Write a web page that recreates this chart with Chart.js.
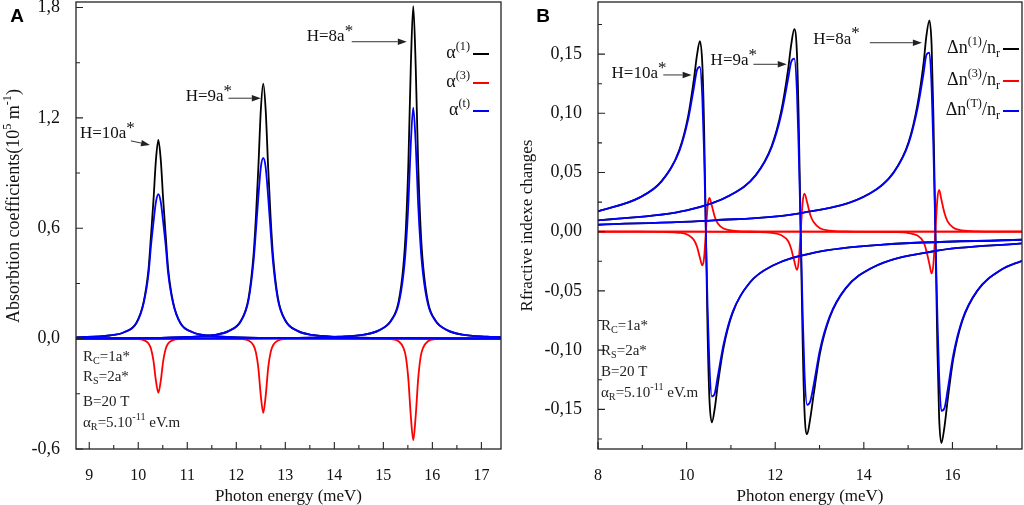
<!DOCTYPE html>
<html>
<head>
<meta charset="utf-8">
<script src="https://cdn.jsdelivr.net/npm/chart.js@4.4.0/dist/chart.umd.min.js"></script>
<style>
  html, body { margin: 0; padding: 0; background: #fff; }
  #wrap { position: relative; width: 1024px; height: 505px; overflow: hidden; }
  .panel { position: absolute; top: 0; width: 512px; height: 505px; }
</style>
</head>
<body>
<div id="wrap">
  <div class="panel" style="left:0"><canvas id="chartA" width="512" height="505"></canvas></div>
  <div class="panel" style="left:512px"><canvas id="chartB" width="512" height="505"></canvas></div>
</div>
<script>
// ---- Panel A : absorption coefficients (10^5 m^-1) ----
// H = 10a*
const xA10 = [8.73, 9.41, 9.71, 9.96, 10.11, 10.21, 10.26, 10.31, 10.36, 10.41, 10.46, 10.51, 10.56, 10.61, 10.71, 10.86, 11.11, 11.41, 11.91, 12.91, 14.41, 17.4];
const a1_10 = [0.0065, 0.017, 0.035, 0.085, 0.20, 0.38, 0.56, 0.75, 0.97, 1.08, 0.97, 0.75, 0.56, 0.38, 0.20, 0.085, 0.035, 0.017, 0.008, 0.003, 0.0012, 0.0004];
const a3_10 = [0, 0, 0, -0.002, -0.008, -0.026, -0.055, -0.12, -0.228, -0.295, -0.228, -0.12, -0.055, -0.026, -0.008, -0.002, 0, 0, 0, 0, 0, 0];
const at_10 = [0.0065, 0.017, 0.035, 0.083, 0.192, 0.354, 0.505, 0.63, 0.742, 0.785, 0.742, 0.63, 0.505, 0.354, 0.192, 0.083, 0.035, 0.017, 0.008, 0.003, 0.0012, 0.0004];
// H = 9a*
const xA9 = [8.73, 10.05, 11.05, 11.55, 11.85, 12.10, 12.25, 12.35, 12.40, 12.45, 12.50, 12.55, 12.60, 12.65, 12.70, 12.75, 12.85, 13.00, 13.25, 13.55, 14.05, 15.05, 17.4];
const a1_9 = [0.0015, 0.0035, 0.01, 0.02, 0.042, 0.10, 0.22, 0.45, 0.66, 0.93, 1.24, 1.386, 1.24, 0.93, 0.66, 0.45, 0.22, 0.10, 0.042, 0.02, 0.01, 0.0035, 0.0012];
const a3_9 = [0, 0, 0, 0, 0, -0.0025, -0.010, -0.036, -0.075, -0.16, -0.31, -0.404, -0.31, -0.16, -0.075, -0.036, -0.010, -0.0025, 0, 0, 0, 0, 0];
const at_9 = [0.0015, 0.0035, 0.01, 0.02, 0.042, 0.0975, 0.21, 0.414, 0.585, 0.77, 0.93, 0.982, 0.93, 0.77, 0.585, 0.414, 0.21, 0.0975, 0.042, 0.02, 0.01, 0.0035, 0.0012];
// H = 8a*
const xA8 = [8.73, 11.61, 13.11, 14.11, 14.61, 14.91, 15.16, 15.31, 15.41, 15.46, 15.51, 15.56, 15.61, 15.66, 15.71, 15.76, 15.81, 15.91, 16.06, 16.31, 16.61, 17.11, 17.4];
const a1_8 = [0.0005, 0.0017, 0.004, 0.011, 0.022, 0.045, 0.10, 0.20, 0.40, 0.60, 0.95, 1.48, 1.808, 1.48, 0.95, 0.60, 0.40, 0.20, 0.10, 0.045, 0.022, 0.011, 0.0085];
const a3_8 = [0, 0, 0, 0, 0, 0, -0.003, -0.014, -0.05, -0.10, -0.22, -0.42, -0.552, -0.42, -0.22, -0.10, -0.05, -0.014, -0.003, 0, 0, 0, 0];
const at_8 = [0.0005, 0.0017, 0.004, 0.011, 0.022, 0.045, 0.097, 0.186, 0.35, 0.50, 0.73, 1.06, 1.256, 1.06, 0.73, 0.50, 0.35, 0.186, 0.097, 0.045, 0.022, 0.011, 0.0085];

// ---- Panel B : refractive index changes ----
// H = 10a*
const xB10 = [8.0, 8.935, 9.435, 9.835, 10.035, 10.165, 10.235, 10.30, 10.355, 10.395, 10.435, 10.475, 10.515, 10.57, 10.635, 10.705, 10.835, 11.035, 11.435, 11.935, 12.935, 14.435, 17.57];
const n1_10 = [0.0172, 0.0288, 0.0427, 0.069, 0.0976, 0.1288, 0.1493, 0.161, 0.1412, 0.0877, 0, -0.0877, -0.1412, -0.161, -0.1493, -0.1288, -0.0976, -0.069, -0.0427, -0.0288, -0.0173, -0.0109, -0.0068];
const n3_10 = [0, 0, -0.0002, -0.0009, -0.0027, -0.007, -0.0127, -0.0219, -0.0285, -0.0219, 0, 0.0219, 0.0285, 0.0219, 0.0127, 0.007, 0.0027, 0.0009, 0.0002, 0, 0, 0, 0];
const nT_10 = [0.0172, 0.0288, 0.0425, 0.0681, 0.0949, 0.1218, 0.1366, 0.1391, 0.1127, 0.0658, 0, -0.0658, -0.1127, -0.1391, -0.1366, -0.1218, -0.0949, -0.0681, -0.0425, -0.0288, -0.0173, -0.0109, -0.0068];
// H = 9a*
const xB9 = [8.0, 10.0, 10.98, 11.56, 11.92, 12.14, 12.29, 12.36, 12.43, 12.49, 12.53, 12.575, 12.62, 12.66, 12.72, 12.79, 12.87, 13.01, 13.23, 13.59, 14.17, 15.575, 17.57];
const n1_9 = [0.0095, 0.018, 0.0308, 0.0479, 0.0724, 0.1026, 0.1368, 0.1578, 0.171, 0.1508, 0.0941, 0, -0.0941, -0.1508, -0.171, -0.1578, -0.1368, -0.1026, -0.0724, -0.0479, -0.0308, -0.0165, -0.0099];
const n3_9 = [0, 0, -0.0001, -0.0003, -0.001, -0.003, -0.0079, -0.0144, -0.0248, -0.0322, -0.0251, 0, 0.0251, 0.0322, 0.0248, 0.0144, 0.0079, 0.003, 0.001, 0.0003, 0.0001, 0, 0];
const nT_9 = [0.0095, 0.018, 0.0307, 0.0476, 0.0714, 0.0996, 0.1289, 0.1434, 0.1462, 0.1186, 0.069, 0, -0.069, -0.1186, -0.1462, -0.1434, -0.1289, -0.0996, -0.0714, -0.0476, -0.0307, -0.0165, -0.0099];
// H = 8a*
const xB8 = [8.0, 10.615, 12.615, 14.13, 14.67, 15.01, 15.21, 15.35, 15.41, 15.48, 15.53, 15.57, 15.615, 15.66, 15.70, 15.75, 15.82, 15.89, 16.02, 16.22, 16.56, 17.1, 17.57];
const n1_8 = [0.0059, 0.0096, 0.016, 0.0322, 0.05, 0.0756, 0.1071, 0.1428, 0.1648, 0.1785, 0.1574, 0.0983, 0, -0.0983, -0.1574, -0.1785, -0.1648, -0.1428, -0.1071, -0.0756, -0.05, -0.0322, -0.0245];
const n3_8 = [0, 0, 0, -0.0001, -0.0003, -0.0011, -0.0033, -0.0087, -0.0158, -0.0272, -0.0353, -0.0275, 0, 0.0275, 0.0353, 0.0272, 0.0158, 0.0087, 0.0033, 0.0011, 0.0003, 0.0001, 0];
const nT_8 = [0.0059, 0.0096, 0.016, 0.0321, 0.0497, 0.0745, 0.1038, 0.1341, 0.149, 0.1513, 0.1221, 0.0708, 0, -0.0708, -0.1221, -0.1513, -0.149, -0.1341, -0.1038, -0.0745, -0.0497, -0.0321, -0.0245];

const SERIF = "'Liberation Serif', 'Times New Roman', serif";
const SANS = "'Liberation Sans', Arial, sans-serif";
const BLACK = '#000000', RED = '#ff0000', BLUE = '#0000ff';

function pts(xs, ys) {
    return xs.map((x, i) => ({ x: x, y: ys[i] }));
}

function curve(xs, ys, color, order) {
    return {
        data: pts(xs, ys),
        borderColor: color,
        borderWidth: 1.8,
        pointRadius: 0,
        fill: false,
        cubicInterpolationMode: 'monotone',
        order: order
    };
}

// text with super/subscripts: parts = [[text, kind]], kind '', 'sup', 'sub', 'star'
function richText(ctx, x, y, parts, size, align) {
    const fontOf = k => (k === 'sup' || k === 'sub' ? size * 0.68 : size) + 'px ' + SERIF;
    let w = 0;
    parts.forEach(p => { ctx.font = fontOf(p[1]); w += ctx.measureText(p[0]).width; });
    let cx = x;
    if (align === 'right') cx = x - w;
    if (align === 'center') cx = x - w / 2;
    ctx.textAlign = 'left';
    ctx.textBaseline = 'middle';
    parts.forEach(p => {
        ctx.font = fontOf(p[1]);
        let dy = 0;
        if (p[1] === 'sup') dy = -size * 0.36;
        if (p[1] === 'sub') dy = size * 0.3;
        if (p[1] === 'star') dy = -size * 0.32;
        ctx.fillText(p[0], cx, y + dy);
        cx += ctx.measureText(p[0]).width;
    });
    return cx;
}

function arrow(ctx, x1, y1, x2, y2) {
    const a = Math.atan2(y2 - y1, x2 - x1), L = 9, W = 3.2;
    ctx.strokeStyle = '#333';
    ctx.fillStyle = '#222';
    ctx.lineWidth = 1;
    ctx.beginPath();
    ctx.moveTo(x1, y1);
    ctx.lineTo(x2 - L * Math.cos(a), y2 - L * Math.sin(a));
    ctx.stroke();
    ctx.beginPath();
    ctx.moveTo(x2, y2);
    ctx.lineTo(x2 - L * Math.cos(a) + W * Math.sin(a), y2 - L * Math.sin(a) - W * Math.cos(a));
    ctx.lineTo(x2 - L * Math.cos(a) - W * Math.sin(a), y2 - L * Math.sin(a) + W * Math.cos(a));
    ctx.closePath();
    ctx.fill();
}

// frame, inward ticks, labels, legend, parameters
function decor(cfg) {
    return {
        id: 'decor',
        afterDraw(chart) {
            const { ctx, chartArea: a, scales } = chart;
            const sx = scales.x, sy = scales.y;
            ctx.save();
            ctx.strokeStyle = '#222';
            ctx.lineWidth = 1.3;
            ctx.strokeRect(a.left, a.top, a.right - a.left, a.bottom - a.top);

            ctx.lineWidth = 1.1;
            ctx.beginPath();
            sx.ticks.forEach(t => {
                const px = sx.getPixelForValue(t.value);
                const len = t.label === '' ? 4 : 7;
                ctx.moveTo(px, a.bottom);
                ctx.lineTo(px, a.bottom - len);
            });
            sy.ticks.forEach(t => {
                const py = sy.getPixelForValue(t.value);
                const len = t.label === '' ? 4 : 7;
                ctx.moveTo(a.left, py);
                ctx.lineTo(a.left + len, py);
            });
            ctx.stroke();

            // y title with real superscripts
            if (cfg.yTitle) {
                ctx.save();
                ctx.translate(cfg.yTitle.x, cfg.yTitle.y);
                ctx.rotate(-Math.PI / 2);
                ctx.fillStyle = '#111';
                richText(ctx, 0, 0, cfg.yTitle.parts, cfg.yTitle.size, 'center');
                ctx.restore();
            }

            // peak labels
            cfg.notes.forEach(n => {
                ctx.fillStyle = '#111';
                richText(ctx, sx.getPixelForValue(n.tx), sy.getPixelForValue(n.ty), [[n.text, ''], ['*', 'star']], 17);
                arrow(ctx, sx.getPixelForValue(n.ax1), sy.getPixelForValue(n.ay1),
                      sx.getPixelForValue(n.ax2), sy.getPixelForValue(n.ay2));
            });

            // legend: text then line sample
            cfg.legend.forEach((item, i) => {
                const y = a.top + cfg.legendRows[i];
                const x2 = a.right - cfg.legendRight;
                const x1 = x2 - 16;
                ctx.strokeStyle = item.color;
                ctx.lineWidth = 2;
                ctx.beginPath();
                ctx.moveTo(x1, y + 1);
                ctx.lineTo(x2, y + 1);
                ctx.stroke();
                ctx.fillStyle = '#111';
                richText(ctx, x1 - 3, y, item.parts, 18, 'right');
            });

            // parameters
            ctx.fillStyle = '#222';
            cfg.params.forEach((parts, i) => {
                richText(ctx, a.left + cfg.paramLeft, a.bottom - cfg.paramRows[i], parts, 15);
            });

            // panel letter
            ctx.fillStyle = '#000';
            ctx.font = 'bold 19px ' + SANS;
            ctx.textAlign = 'center';
            ctx.textBaseline = 'middle';
            ctx.fillText(cfg.letter, cfg.letterX, 17);
            ctx.restore();
        }
    };
}

function fmt(v, d) {
    if (Math.abs(v) < 1e-9) v = 0;
    return v.toFixed(d).replace('.', ',');
}

function onStep(v, s) {
    return Math.abs(v / s - Math.round(v / s)) < 1e-6;
}

function axes(o) {
    return {
        x: {
            type: 'linear', min: o.xMin, max: o.xMax,
            grid: { display: false }, border: { display: false },
            ticks: {
                stepSize: o.xStep, autoSkip: false, includeBounds: false, maxRotation: 0,
                padding: 9, color: '#111', font: { family: SERIF, size: 16 },
                callback: v => onStep(v, o.xLab) ? String(Math.round(v)) : ''
            },
            title: {
                display: true, text: 'Photon energy (meV)', color: '#111',
                font: { family: SERIF, size: 17, lineHeight: 1 }, padding: { top: 0, bottom: 0 }
            },
            afterFit: s => { s.height = 56; s.paddingLeft = 0; s.paddingRight = 0; }
        },
        y: {
            type: 'linear', min: o.yMin, max: o.yMax,
            grid: { display: false }, border: { display: false },
            ticks: {
                stepSize: o.yStep, autoSkip: false, includeBounds: false,
                padding: o.yPad, color: '#111', font: { family: SERIF, size: 18 },
                callback: v => onStep(v, o.yLab) ? fmt(v, o.yDec) : ''
            },
            title: {
                display: !!o.yTitle, text: o.yTitle || '', color: '#111',
                font: { family: SERIF, size: 17, lineHeight: 1 },
                padding: { top: o.yTitlePad || 0, bottom: o.yTitlePad || 0 }
            },
            afterFit: s => { s.width = o.yWidth; s.paddingTop = 0; s.paddingBottom = 0; }
        }
    };
}

const paramLines = [
    [['R', ''], ['C', 'sub'], ['=1a*', '']],
    [['R', ''], ['S', 'sub'], ['=2a*', '']],
    [['B=20 T', '']],
    [['\u03b1', ''], ['R', 'sub'], ['=5.10', ''], ['-11', 'sup'], [' eV.m', '']]
];

// ---- chart A ----
new Chart(document.getElementById('chartA'), {
    type: 'line',
    data: {
        datasets: [
            curve(xA10, a1_10, BLACK, 3), curve(xA9, a1_9, BLACK, 3), curve(xA8, a1_8, BLACK, 3),
            curve(xA10, a3_10, RED, 2), curve(xA9, a3_9, RED, 2), curve(xA8, a3_8, RED, 2),
            curve(xA10, at_10, BLUE, 1), curve(xA9, at_9, BLUE, 1), curve(xA8, at_8, BLUE, 1)
        ]
    },
    options: {
        responsive: false,
        animation: false,
        layout: { padding: { top: 2, right: 11, bottom: 0, left: 0 } },
        plugins: { legend: { display: false }, tooltip: { enabled: false } },
        scales: axes({
            xMin: 8.73, xMax: 17.4, xStep: 0.5, xLab: 1,
            yMin: -0.6, yMax: 1.83, yStep: 0.3, yLab: 0.6, yDec: 1, yPad: 8,
            yWidth: 76
        })
    },
    plugins: [decor({
        letter: 'A', letterX: 17,
        yTitle: {
            x: 14, y: 206, size: 18,
            parts: [['Absorbtion coefficients(10', ''], ['5', 'sup'], [' m', ''], ['-1', 'sup'], [')', '']]
        },
        notes: [
            { text: 'H=10a', tx: 8.81, ty: 1.113, ax1: 9.85, ay1: 1.075, ax2: 10.24, ay2: 1.053 },
            { text: 'H=9a', tx: 10.967, ty: 1.314, ax1: 11.84, ay1: 1.307, ax2: 12.50, ay2: 1.307 },
            { text: 'H=8a', tx: 13.437, ty: 1.64, ax1: 14.355, ay1: 1.614, ax2: 15.478, ay2: 1.614 }
        ],
        legend: [
            { color: BLACK, parts: [['\u03b1', ''], ['(1)', 'sup']] },
            { color: RED, parts: [['\u03b1', ''], ['(3)', 'sup']] },
            { color: BLUE, parts: [['\u03b1', ''], ['(t)', 'sup']] }
        ],
        legendRows: [51, 80, 108], legendRight: 12,
        params: paramLines, paramLeft: 7, paramRows: [92, 72, 47, 26]
    })]
});

// ---- chart B ----
new Chart(document.getElementById('chartB'), {
    type: 'line',
    data: {
        datasets: [
            curve(xB10, n1_10, BLACK, 3), curve(xB9, n1_9, BLACK, 3), curve(xB8, n1_8, BLACK, 3),
            curve(xB10, n3_10, RED, 2), curve(xB9, n3_9, RED, 2), curve(xB8, n3_8, RED, 2),
            curve(xB10, nT_10, BLUE, 1), curve(xB9, nT_9, BLUE, 1), curve(xB8, nT_8, BLUE, 1)
        ]
    },
    options: {
        responsive: false,
        animation: false,
        layout: { padding: { top: 2, right: 2, bottom: 0, left: 0 } },
        plugins: { legend: { display: false }, tooltip: { enabled: false } },
        scales: axes({
            xMin: 8, xMax: 17.57, xStep: 1, xLab: 2,
            yMin: -0.1835, yMax: 0.194, yStep: 0.025, yLab: 0.05, yDec: 2, yPad: 8,
            yTitle: 'Rfractive indexe changes', yTitlePad: 7.5, yWidth: 86
        })
    },
    plugins: [decor({
        letter: 'B', letterX: 31,
        notes: [
            { text: 'H=10a', tx: 8.305, ty: 0.1335, ax1: 9.473, ay1: 0.1324, ax2: 10.113, ay2: 0.1324 },
            { text: 'H=9a', tx: 10.542, ty: 0.1442, ax1: 11.507, ay1: 0.1414, ax2: 12.26, ay2: 0.1414 },
            { text: 'H=8a', tx: 12.859, ty: 0.1625, ax1: 14.136, ay1: 0.1596, ax2: 15.31, ay2: 0.1596 }
        ],
        legend: [
            { color: BLACK, parts: [['\u0394n', ''], ['(1)', 'sup'], ['/n', ''], ['r', 'sub']] },
            { color: RED, parts: [['\u0394n', ''], ['(3)', 'sup'], ['/n', ''], ['r', 'sub']] },
            { color: BLUE, parts: [['\u0394n', ''], ['(T)', 'sup'], ['/n', ''], ['r', 'sub']] }
        ],
        legendRows: [46, 78, 108], legendRight: 3,
        params: paramLines, paramLeft: 3, paramRows: [123, 98, 77, 56]
    })]
});
</script>
</body>
</html>
